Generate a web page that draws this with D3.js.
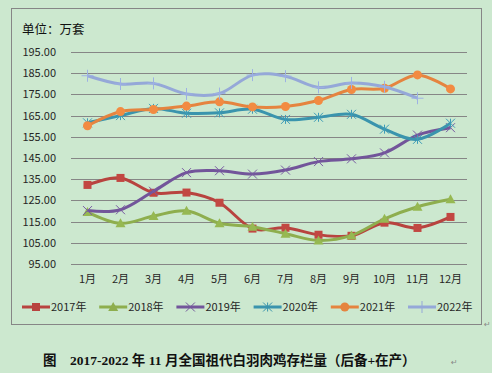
<html>
<head>
<meta charset="utf-8">
<style>
  body { margin: 0; background: #cce8cf; }
  svg { display: block; }
</style>
<script src="https://cdn.jsdelivr.net/npm/d3@7"></script>
</head>
<body>
<svg id="chart" width="492" height="373"></svg>
<script>
// 数据：2017-2022 年祖代白羽肉鸡存栏量（万套）
const months = ["1月","2月","3月","4月","5月","6月","7月","8月","9月","10月","11月","12月"]
const years = ["2017年","2018年","2019年","2020年","2021年","2022年"]
const v2017 = [132.3, 135.6, 128.6, 128.7, 123.9, 111.7, 112.1, 108.8, 108.3, 114.5, 112.0, 117.2]
const v2018 = [119.5, 114.2, 117.6, 120.1, 114.2, 112.6, 109.3, 106.1, 108.5, 116.3, 122.0, 125.5]
const v2019 = [120.2, 120.6, 129.3, 138.1, 139.0, 137.4, 139.3, 143.3, 144.6, 147.4, 155.8, 159.3]
const v2020 = [161.6, 165.0, 168.4, 166.1, 166.3, 168.0, 163.2, 164.2, 165.6, 158.6, 153.8, 161.4]
const v2021 = [160.2, 166.9, 167.9, 169.5, 171.5, 169.1, 169.3, 172.1, 177.3, 177.9, 184.2, 177.6]
const v2022 = [183.8, 179.9, 180.2, 175.2, 175.4, 184.1, 183.6, 178.3, 180.4, 178.6, 173.2]
const yTicks = [95, 105, 115, 125, 135, 145, 155, 165, 175, 185, 195]

const seriesList = [v2017, v2018, v2019, v2020, v2021, v2022]
const colors = ["#b8433f", "#8eae4e", "#72559a", "#3a94ad", "#e5843f", "#95a8d8"]
const shapes = ["square", "triangle", "cross", "star", "circle", "plus"]

const svg = d3.select("#chart")

// 外框
svg.append("rect")
  .attr("x", 11.5).attr("y", 8.5).attr("width", 470).attr("height", 316)
  .attr("fill", "none").attr("stroke", "#868686")

svg.append("text")
  .attr("x", 22).attr("y", 34)
  .style("font-family", "'Noto Sans CJK SC'").style("font-size", "12.5px")
  .attr("fill", "#111")
  .text("单位：万套")

const x = d3.scaleBand().domain(months).range([71, 467])
const y = d3.scaleLinear().domain([95, 195]).range([264, 52])

// y轴 + 网格线
let yAxis = svg.append("g")
  .attr("transform", "translate(71,0)")
  .call(d3.axisLeft(y).tickValues(yTicks).tickFormat(d3.format(".2f"))
    .tickSize(-396).tickPadding(15))
yAxis.select(".domain").remove()
yAxis.selectAll("line").attr("stroke", "#868686").attr("shape-rendering", "crispEdges")
yAxis.selectAll("text")
  .style("font-family", "'Noto Sans CJK SC'").style("font-size", "11px").attr("fill", "#262626")

let xAxis = svg.append("g")
  .attr("transform", "translate(0,264)")
  .call(d3.axisBottom(x).tickSize(0).tickPadding(11))
xAxis.select(".domain").remove()
xAxis.selectAll("text")
  .style("font-family", "'Noto Sans CJK SC'").style("font-size", "11px").attr("fill", "#262626")

function marker(g, shape, color, cx, cy) {
  if (shape == "square") {
    g.append("rect").attr("x", cx - 4).attr("y", cy - 4).attr("width", 8).attr("height", 8).attr("fill", color)
  } else if (shape == "triangle") {
    g.append("path").attr("d", `M${cx},${cy-5}L${cx+5},${cy+4}L${cx-5},${cy+4}Z`).attr("fill", color)
  } else if (shape == "circle") {
    g.append("circle").attr("cx", cx).attr("cy", cy).attr("r", 4.5).attr("fill", color)
  } else {
    let d = ""
    let s = 4.5
    if (shape == "cross" || shape == "star") d += `M${cx-s},${cy-s}L${cx+s},${cy+s}M${cx-s},${cy+s}L${cx+s},${cy-s}`
    if (shape == "star") d += `M${cx},${cy-s}L${cx},${cy+s}`
    if (shape == "plus") d += `M${cx-6},${cy}L${cx+6},${cy}M${cx},${cy-6}L${cx},${cy+6}`
    g.append("path").attr("d", d).attr("stroke", color).attr("stroke-width", 1).attr("fill", "none")
  }
}

const line = d3.line()
  .x((d, i) => x(months[i]) + x.bandwidth() / 2)
  .y(d => y(d))
  .curve(d3.curveCatmullRom.alpha(0))

seriesList.forEach((vals, k) => {
  let g = svg.append("g")
  g.append("path")
    .attr("d", line(vals))
    .attr("fill", "none")
    .attr("stroke", colors[k])
    .attr("stroke-width", 3)
    .attr("stroke-linejoin", "round")
  vals.forEach((v, i) => {
    marker(g, shapes[k], d3.color(colors[k]).brighter(0.15).toString(), x(months[i]) + x.bandwidth() / 2, y(v))
  })
})

// 图例
const legend = svg.append("g")
years.forEach((name, k) => {
  let lx = 22 + k * 77.2
  let ly = 307
  let g = legend.append("g")
  g.append("line").attr("x1", lx).attr("x2", lx + 28).attr("y1", ly).attr("y2", ly)
    .attr("stroke", colors[k]).attr("stroke-width", 3)
  marker(g, shapes[k], colors[k], lx + 14, ly)
  g.append("text").attr("x", lx + 29).attr("y", ly + 4)
    .style("font-family", "'Noto Sans CJK SC'").style("font-size", "11px").attr("fill", "#262626")
    .text(name)
})

svg.append("text").attr("x", 484).attr("y", 327)
  .style("font-family", "'DejaVu Sans'").style("font-size", "8px").attr("fill", "#888")
  .text("↵")

// 图题
svg.append("text")
  .attr("x", 43).attr("y", 365)
  .style("font-family", "'Liberation Serif','Noto Sans CJK SC'").style("font-size", "13.5px")
  .style("font-weight", "bold").attr("fill", "#111")
  .style("white-space", "pre")
  .text("图    2017-2022 年 11 月全国祖代白羽肉鸡存栏量（后备+在产）")
svg.append("text").attr("x", 451).attr("y", 365)
  .style("font-family", "'DejaVu Sans'").style("font-size", "8px").attr("fill", "#888")
  .text("↵")
</script>
</body>
</html>
